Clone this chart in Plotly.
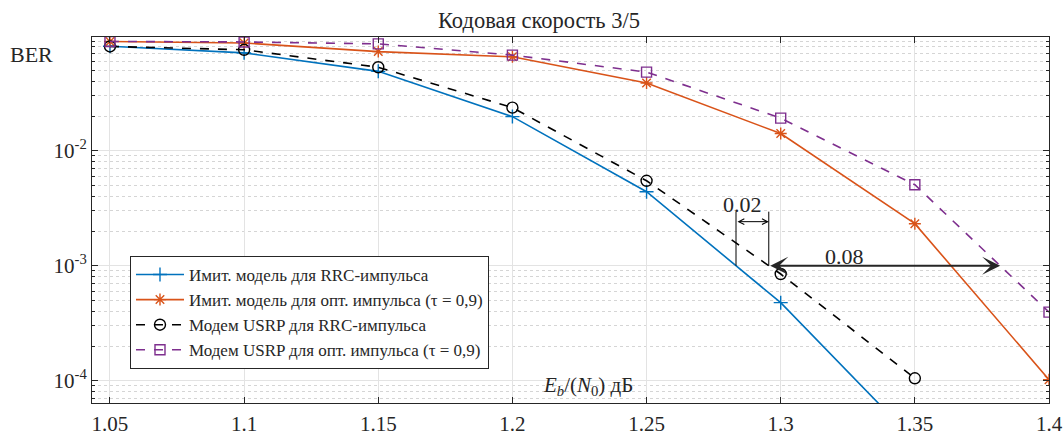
import numpy as np
import plotly.graph_objects as go

# ---- data ----
snr_db = [1.05, 1.1, 1.15, 1.2, 1.25, 1.3, 1.35, 1.4]
ber_sim_rrc = [0.081, 0.071, 0.049, 0.0198, 0.0044, 4.77e-4, 3.0e-5]
ber_sim_opt = [0.089, 0.0865, 0.0728, 0.0656, 0.0388, 0.0141, 0.00232, 1.02e-4]
ber_usrp_rrc = [0.0807, 0.0755, 0.0532, 0.0237, 0.00548, 8.47e-4, 1.05e-4]
ber_usrp_opt = [0.0892, 0.0883, 0.085, 0.0678, 0.0483, 0.0192, 0.00506, 3.95e-4]

names = [
    "Имит. модель для RRC-импульса",
    "Имит. модель для опт. импульса (τ = 0,9)",
    "Модем USRP для RRC-импульса",
    "Модем USRP для опт. импульса (τ = 0,9)",
]
x_ticks = [1.05, 1.1, 1.15, 1.2, 1.25, 1.3, 1.35, 1.4]
x_ticktext = ["1.05", "1.1", "1.15", "1.2", "1.25", "1.3", "1.35", "1.4"]
y_ticks = [1e-4, 1e-3, 1e-2]
y_ticktext = ["10<sup>-4</sup>", "10<sup>-3</sup>", "10<sup>-2</sup>"]
title_text = "Кодовая скорость 3/5"
ylabel_text = "BER"
xlabel_text = "<i>E</i><sub><i>b</i></sub>/(<i>N</i><sub>0</sub>) дБ"
ref_level = 1e-3
label_small = "0.02"
label_big = "0.08"

FONT = "Liberation Serif"
TXT = "#262626"

fig = go.Figure()
styles = [
    (ber_sim_rrc, "#0072BD", "solid", "cross-thin-open", 10),
    (ber_sim_opt, "#D95319", "solid", "asterisk-open", 10),
    (ber_usrp_rrc, "#000000", "dash", "circle-open", 11),
    (ber_usrp_opt, "#7E2F8E", "dash", "square-open", 10),
]
for (ys, col, dash, sym, ms), nm in zip(styles, names):
    fig.add_trace(go.Scatter(
        x=snr_db[:len(ys)], y=ys, name=nm, mode="lines+markers",
        line=dict(color=col, width=1.6, dash=dash),
        marker=dict(symbol=sym, size=ms, color=col, line=dict(color=col, width=1.4)),
    ))


def cross_x(ys, level):
    lx = np.array(snr_db[:len(ys)])
    ly = np.log10(np.array(ys))
    t = np.log10(level)
    for i in range(len(ly) - 1):
        if ly[i] >= t >= ly[i + 1]:
            f = (ly[i] - t) / (ly[i] - ly[i + 1])
            return lx[i] + f * (lx[i + 1] - lx[i])
    return None


xb = cross_x(ber_sim_rrc, ref_level)
xk = cross_x(ber_usrp_rrc, ref_level)
xp = cross_x(ber_usrp_opt, ref_level)
lvl = np.log10(ref_level)
top_v = lvl + 0.47
arr_small_y = lvl + 0.383

for xv in (xb, xk):
    fig.add_shape(type="line", xref="x", yref="y", x0=xv, x1=xv,
                  y0=10 ** lvl, y1=10 ** top_v,
                  line=dict(color="black", width=1))

fig.add_annotation(x=xk, y=arr_small_y, ax=xb, ay=arr_small_y, xref="x", yref="y",
                   axref="x", ayref="y", text="", showarrow=True, arrowside="end+start",
                   arrowhead=5, startarrowhead=5, arrowsize=1.1, startarrowsize=1.1,
                   arrowwidth=1, arrowcolor="black")
fig.add_annotation(x=xp, y=lvl, ax=xk, ay=lvl, xref="x", yref="y",
                   axref="x", ayref="y", text="", showarrow=True, arrowside="end+start",
                   arrowhead=3, startarrowhead=3, arrowsize=1.5, startarrowsize=1.5,
                   arrowwidth=2, arrowcolor="#262626")
fig.add_annotation(x=xb + 0.21 * (xk - xb), y=lvl + 0.535, xref="x", yref="y",
                   text=label_small, showarrow=False, xanchor="center", yanchor="middle",
                   font=dict(family=FONT, size=22, color=TXT))
fig.add_annotation(x=xk + 0.327 * (xp - xk), y=lvl + 0.08, xref="x", yref="y",
                   text=label_big, showarrow=False, xanchor="center", yanchor="middle",
                   font=dict(family=FONT, size=22, color=TXT))

fig.add_annotation(x=-0.063, y=0.951, xref="paper", yref="paper", text=ylabel_text,
                   showarrow=False, xanchor="center", yanchor="middle",
                   font=dict(family=FONT, size=22, color=TXT))
fig.add_annotation(x=0.518, y=0.047, xref="paper", yref="paper", text=xlabel_text,
                   showarrow=False, xanchor="center", yanchor="middle",
                   font=dict(family=FONT, size=21, color=TXT))

minor_vals = [m * 10.0 ** e for e in range(-5, 0) for m in range(2, 10)]

fig.update_layout(
    width=1063, height=437,
    margin=dict(l=92, r=14, t=37, b=34),
    paper_bgcolor="white", plot_bgcolor="white",
    font=dict(family=FONT, color=TXT),
    title=dict(text=title_text, xref="container", x=539 / 1063, xanchor="center",
               yref="container", y=1 - 20 / 437,
               yanchor="middle", font=dict(family=FONT, size=22.5, color=TXT)),
    legend=dict(x=0.0397, y=0.093, xanchor="left", yanchor="bottom",
                bgcolor="white", bordercolor="#262626", borderwidth=1,
                font=dict(family=FONT, size=17, color=TXT), itemwidth=48,
                tracegroupgap=0),
    showlegend=True,
)
fig.update_xaxes(
    range=[1.0433, 1.4], tickmode="array", tickvals=x_ticks, ticktext=x_ticktext,
    ticks="inside", ticklen=6, tickcolor="#262626", showline=True, linecolor="#262626",
    linewidth=1, mirror="ticks", showgrid=True, gridcolor="#e3e3e3", gridwidth=1,
    zeroline=False, tickfont=dict(family=FONT, size=21, color=TXT), ticklabelstandoff=2,
    automargin=False,
)
fig.update_yaxes(
    type="log", range=[-4.194, -1.011], tickmode="array", tickvals=y_ticks,
    ticktext=y_ticktext, ticks="inside", ticklen=6, tickcolor="#262626",
    showline=True, linecolor="#262626", linewidth=1, mirror="ticks",
    showgrid=True, gridcolor="#e3e3e3", gridwidth=1, zeroline=False,
    tickfont=dict(family=FONT, size=21, color=TXT), automargin=False,
    minor=dict(tickmode="array", tickvals=minor_vals, ticks="inside", ticklen=3,
               tickcolor="#262626", showgrid=True, gridcolor="#d5d5d5", griddash="dot",
               gridwidth=1),
)

fig.write_html("out.html")
